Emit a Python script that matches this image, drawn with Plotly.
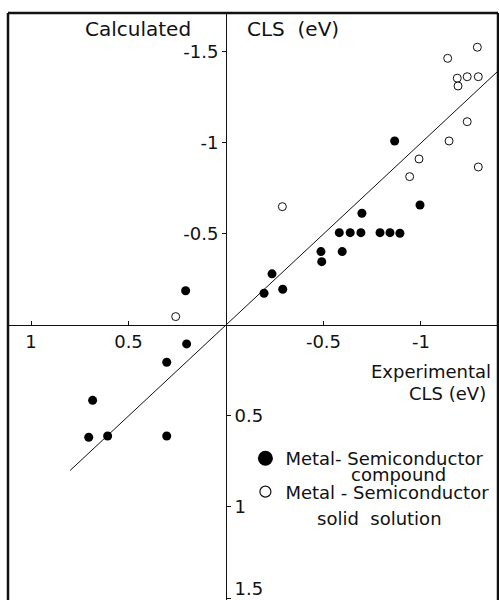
import plotly.graph_objects as go

# ---------------- data ----------------
compound_x = [-0.865, -0.995, -0.697, -0.581, -0.637, -0.692, -0.790, -0.841, -0.892,
              -0.487, -0.596, -0.491, -0.236, -0.195, -0.291, 0.207, 0.202, 0.304,
              0.684, 0.704, 0.607, 0.304]
compound_y = [-1.011, -0.659, -0.614, -0.507, -0.507, -0.507, -0.507, -0.507, -0.504,
              -0.403, -0.403, -0.348, -0.281, -0.174, -0.196, -0.188, 0.104, 0.205,
              0.414, 0.617, 0.610, 0.610]

solid_x = [-1.289, -1.137, -1.186, -1.237, -1.294, -1.190, -1.237, -1.144, -0.990,
           -1.294, -0.942, -0.289, 0.258]
solid_y = [-1.526, -1.465, -1.356, -1.364, -1.364, -1.313, -1.117, -1.011, -0.912,
           -0.868, -0.815, -0.650, -0.046]

fit_x = [0.8, -1.5]
fit_y = [0.8, -1.5]

x_tickvals = [1, 0.5, -0.5, -1]
x_ticktext = ["1", "0.5", "-0.5", "-1"]
yneg_tickvals = [-1.5, -1, -0.5]
yneg_ticktext = ["-1.5", "-1", "-0.5"]
ypos_tickvals = [0.5, 1]
ypos_ticktext = ["0.5", "1"]
ylast_tickvals = [1.5]
ylast_ticktext = ["1.5"]

X_RANGE = [1.118, -1.395]
Y_RANGE = [1.511, -1.714]

FONT = "DejaVu Sans"
INK = "#111111"

# fractions where the zero lines sit inside the plot area
x_zero_frac = (X_RANGE[0] - 0) / (X_RANGE[0] - X_RANGE[1])
y_zero_frac = (Y_RANGE[0] - 0) / (Y_RANGE[0] - Y_RANGE[1])

fig = go.Figure()

fig.add_trace(go.Scatter(x=fit_x, y=fit_y, mode="lines",
                         line=dict(color=INK, width=1), showlegend=False,
                         hoverinfo="skip"))
fig.add_trace(go.Scatter(x=compound_x, y=compound_y, mode="markers",
                         marker=dict(color="black", size=9, line=dict(width=0)),
                         showlegend=False))
fig.add_trace(go.Scatter(x=solid_x, y=solid_y, mode="markers",
                         marker=dict(color="white", size=8,
                                     line=dict(color=INK, width=1)),
                         showlegend=False))

# legend entries (larger symbols as in the original key)
fig.add_trace(go.Scatter(x=[None], y=[None], mode="markers",
                         name="Metal- Semiconductor", legendgroup="a",
                         marker=dict(color="black", size=15)))
fig.add_trace(go.Scatter(x=[None], y=[None], mode="markers",
                         name="Metal - Semiconductor", legendgroup="b",
                         marker=dict(color="white", size=11,
                                     line=dict(color=INK, width=1.2))))

# empty traces so that the overlaying label axes get drawn
fig.add_trace(go.Scatter(x=[None], y=[None], yaxis="y2", showlegend=False,
                         hoverinfo="skip"))
fig.add_trace(go.Scatter(x=[None], y=[None], yaxis="y3", showlegend=False,
                         hoverinfo="skip"))

axis_common = dict(range=Y_RANGE, showgrid=False, zeroline=False,
                   anchor="free", position=x_zero_frac,
                   ticks="outside", ticklen=4, tickcolor=INK,
                   tickfont=dict(family=FONT, size=18, color=INK),
                   tickmode="array")

fig.update_layout(
    width=499, height=600,
    margin=dict(l=8, r=1, t=13, b=0, autoexpand=False),
    paper_bgcolor="white", plot_bgcolor="white",
    font=dict(family=FONT, color=INK),
    xaxis=dict(range=X_RANGE, showgrid=False, zeroline=False,
               anchor="free", position=y_zero_frac,
               showline=True, linecolor=INK, linewidth=1,
               ticks="inside", ticklen=4, tickcolor=INK,
               tickmode="array", tickvals=x_tickvals, ticktext=x_ticktext,
               tickfont=dict(family=FONT, size=18, color=INK),
               ticklabelstandoff=0),
    yaxis=dict(**axis_common, side="left", showline=True, linecolor=INK,
               linewidth=1, tickvals=yneg_tickvals, ticktext=yneg_ticktext),
    yaxis2=dict(**axis_common, side="right", overlaying="y", showline=False,
                tickvals=ypos_tickvals, ticktext=ypos_ticktext),
    yaxis3=dict(**axis_common, side="right", overlaying="y", showline=False,
                tickvals=ylast_tickvals, ticktext=ylast_ticktext,
                ticklabelshift=9),
    showlegend=True,
    legend=dict(x=0.4845, y=0.2725, xanchor="left", yanchor="top",
                bgcolor="rgba(0,0,0,0)", borderwidth=0,
                font=dict(family=FONT, size=18, color=INK),
                tracegroupgap=7, itemsizing="trace"),
)

# frame around the plot (left, top, right)
frame = dict(type="line", xref="paper", yref="paper",
             line=dict(color=INK, width=2.5))
fig.add_shape(**frame, x0=0, x1=0, y0=0, y1=1)
fig.add_shape(**frame, x0=0, x1=1, y0=1, y1=1)
fig.add_shape(**frame, x0=1, x1=1, y0=0, y1=1)

def note(text, x, y, xanchor, size):
    fig.add_annotation(text=text, x=x, y=y, xref="paper", yref="paper",
                       xanchor=xanchor, yanchor="middle", showarrow=False,
                       font=dict(family=FONT, size=size, color=INK))

note("Calculated", 0.3776, 0.9727, "right", 20)
note("CLS\u00a0\u00a0(eV)", 0.4837, 0.9727, "left", 20)
note("Experimental", 0.9898, 0.390, "right", 18)
note("CLS (eV)", 0.9796, 0.351, "right", 18)
note("compound", 0.796, 0.2130, "center", 18)
note("solid\u00a0\u00a0solution", 0.759, 0.138, "center", 18)

fig.write_html("out.html")
